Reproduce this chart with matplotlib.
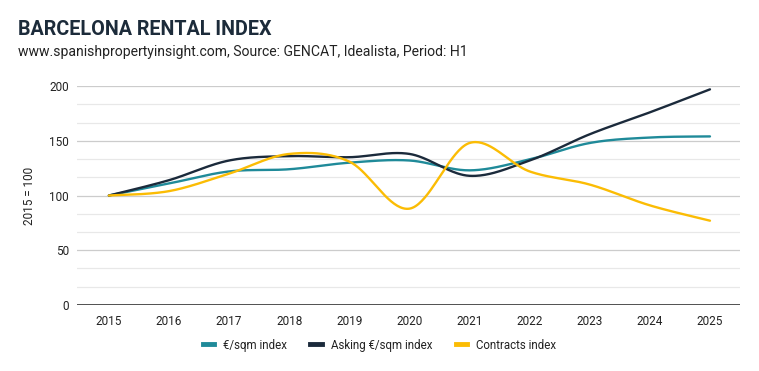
import numpy as np
import matplotlib.pyplot as plt
from matplotlib.lines import Line2D

plt.rcParams['font.family'] = ['Roboto', 'DejaVu Sans']

years = [2015, 2016, 2017, 2018, 2019, 2020, 2021, 2022, 2023, 2024, 2025]
sqm_index = [100, 111, 122, 124, 130, 132, 123, 133, 148, 153, 154]
asking_index = [100, 114, 132, 136, 135, 138, 118, 132, 156, 176, 197]
contracts_index = [100, 104, 120, 138, 131, 88, 148, 122, 110, 91, 77]

series = [
    ('€/sqm index', sqm_index, '#1f8a99'),
    ('Asking €/sqm index', asking_index, '#1b2a3b'),
    ('Contracts index', contracts_index, '#fbbc04'),
]


def smooth(x, y, n=40):
    # catmull-rom style bezier, like google charts "function" curves
    x = np.asarray(x, float)
    y = np.asarray(y, float)
    xs, ys = [], []
    k = len(x)
    for i in range(k - 1):
        p0 = np.array([x[max(i - 1, 0)], y[max(i - 1, 0)]])
        p1 = np.array([x[i], y[i]])
        p2 = np.array([x[i + 1], y[i + 1]])
        p3 = np.array([x[min(i + 2, k - 1)], y[min(i + 2, k - 1)]])
        c1 = p1 + (p2 - p0) / 6
        c2 = p2 - (p3 - p1) / 6
        t = np.linspace(0, 1, n)[:, None]
        pts = ((1 - t) ** 3) * p1 + 3 * ((1 - t) ** 2) * t * c1 + 3 * (1 - t) * t ** 2 * c2 + t ** 3 * p2
        xs.extend(pts[:, 0])
        ys.extend(pts[:, 1])
    return xs, ys


fig = plt.figure(figsize=(7.59, 3.71), dpi=100)
ax = fig.add_axes([0.1015, 0.178, 0.8735, 0.59])

for y in np.arange(0, 201, 50 / 3):
    major = abs(y / 50 - round(y / 50)) < 1e-6
    if abs(y) < 1e-6:
        continue
    ax.axhline(y, color='#cccccc' if major else '#e8e8e8', lw=0.9, zorder=0)
ax.axhline(0, color='#333333', lw=1.2, zorder=3)

for name, vals, col in series:
    sx, sy = smooth(years, vals)
    ax.plot(sx, sy, color=col, lw=1.7, label=name, solid_capstyle='round', zorder=2)

ax.set_xlim(2014.47, 2025.5)
ax.set_ylim(0, 200)
ax.set_xticks(years)
ax.set_xticklabels([str(y) for y in years])
ax.set_yticks([0, 50, 100, 150, 200])
ax.tick_params(length=0, labelsize=8.5, colors='#222222')
ax.tick_params(axis='y', pad=6)
ax.tick_params(axis='x', pad=7)
for s in ax.spines.values():
    s.set_visible(False)
ax.set_ylabel('2015 = 100', fontsize=8.5, color='#222222', labelpad=9)

fig.text(0.024, 0.905, 'BARCELONA RENTAL INDEX', fontsize=14.2, fontweight='bold', color='#1c2b3a')
fig.text(0.024, 0.848, 'www.spanishpropertyinsight.com, Source: GENCAT, Idealista, Period: H1',
         fontsize=10.1, color='#222222')

handles = [Line2D([0], [0], color=c, lw=3.5) for _, _, c in series]
fig.legend(handles, [n for n, _, _ in series], loc='center', bbox_to_anchor=(0.5, 0.07), ncol=3,
           frameon=False, fontsize=8.3, handlelength=1.0, handletextpad=0.8, columnspacing=2.0,
           labelcolor='#222222')

fig.savefig('out.png', dpi=100)
